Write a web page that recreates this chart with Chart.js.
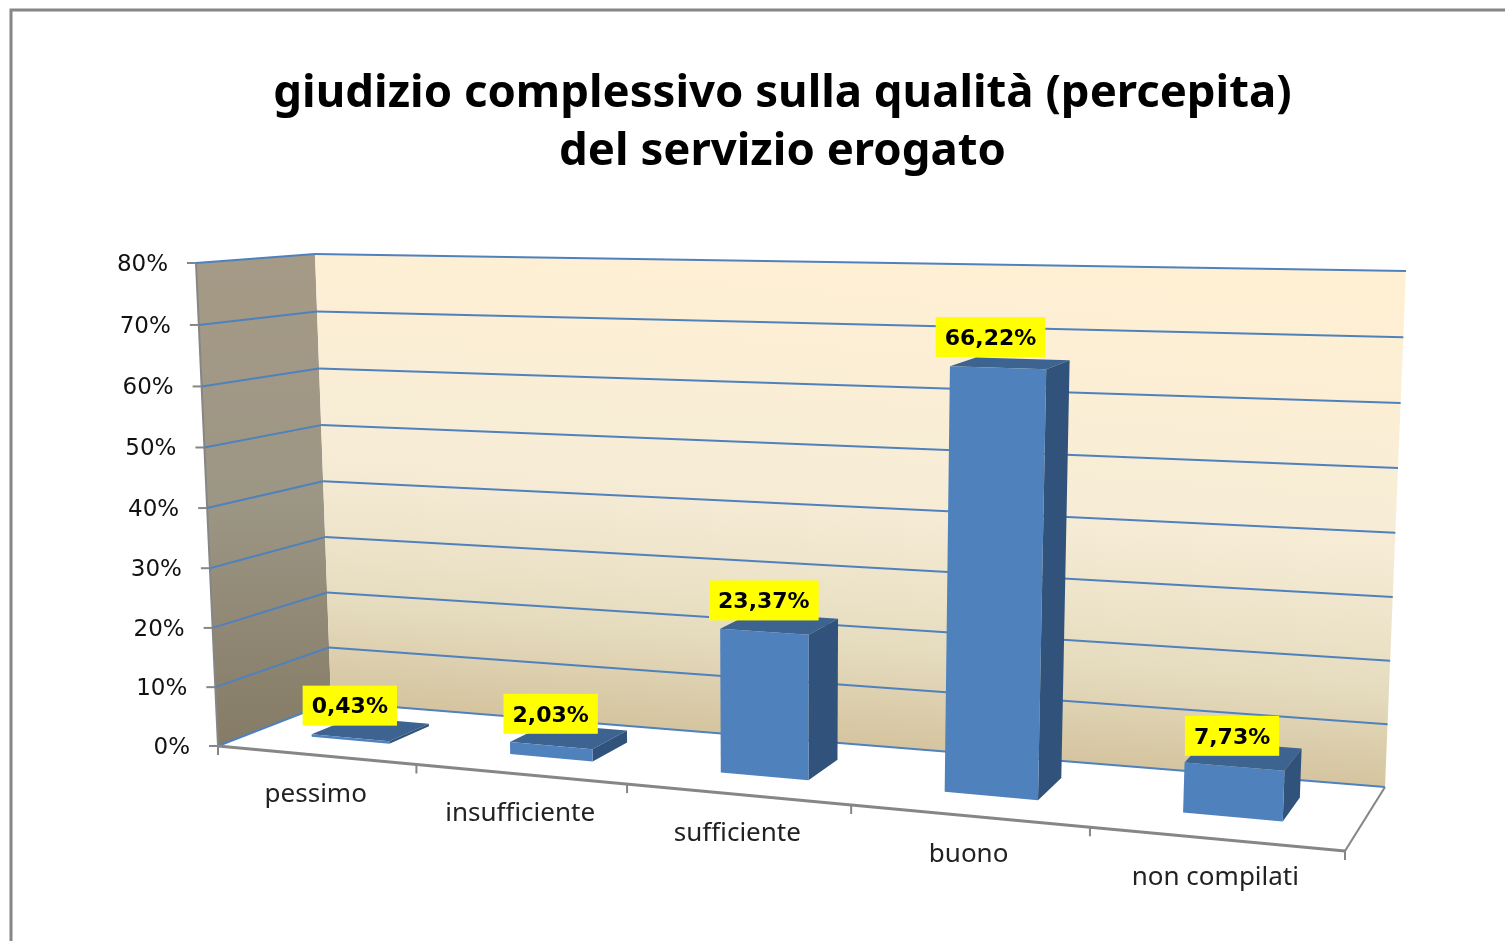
<!DOCTYPE html>
<html><head><meta charset="utf-8">
<style>html,body{margin:0;padding:0;background:#fff}#w{width:1505px;height:941px}</style>
<script src="https://cdn.jsdelivr.net/npm/chart.js@4"></script>
</head><body><div id="w"><canvas id="c"></canvas></div>
<script>
const categories = ["pessimo","insufficiente","sufficiente","buono","non compilati"];
const values = [0.43,2.03,23.37,66.22,7.73];
const valueLabels = ["0,43%","2,03%","23,37%","66,22%","7,73%"];
const titleLines = ["giudizio complessivo sulla qualità (percepita)","del servizio erogato"];

// View of the 3D box: corners as [x, y] on the page
const FL0=[218,746],FL1=[196,263],BL0=[331,702],BL1=[315,254],BR0=[1385,787],BR1=[1406,271],FR0=[1345,851],FR1=[1368,291];
const KX=1.17,KY=1.03;
const zFront=s=>.32+.04*s, zBack=s=>.70+.04*s;
const lerp=(a,b,t)=>[a[0]+(b[0]-a[0])*t,a[1]+(b[1]-a[1])*t];
function proj(s,h,z){
  const t=s/(s+(1-s)*KX), v=h/(h+(1-h)*KY);
  const fb=lerp(FL0,FR0,t),ft=lerp(FL1,FR1,t),bb=lerp(BL0,BR0,t),bt=lerp(BL1,BR1,t);
  return lerp(lerp(fb,ft,v),lerp(bb,bt,v),z);
}
function poly(ctx,pts,fill){ctx.beginPath();pts.forEach((p,i)=>i?ctx.lineTo(p[0],p[1]):ctx.moveTo(p[0],p[1]));ctx.closePath();ctx.fillStyle=fill;ctx.fill();}
function line(ctx,a,b,col,w){ctx.beginPath();ctx.moveTo(a[0],a[1]);ctx.lineTo(b[0],b[1]);ctx.strokeStyle=col;ctx.lineWidth=w;ctx.stroke();}
const fracX=(c,px)=>(px-c.chartArea.left)/c.chartArea.width;
const fracY=(c,py)=>(c.chartArea.bottom-py)/c.chartArea.height;

const box3d={
  id:'box3d',
  beforeDraw(c){
    const x=c.ctx;x.save();x.strokeStyle='#868686';x.lineWidth=3;x.strokeRect(11,10,1700,1200);x.restore();
  },
  beforeDatasetsDraw(c){
    const x=c.ctx,Y=c.scales.y,X=c.scales.x;x.save();
    const bg=x.createLinearGradient(860,262,820,745);
    bg.addColorStop(0,'#FFF0D4');bg.addColorStop(.5,'#F6ECD6');bg.addColorStop(.78,'#E6DDC0');bg.addColorStop(1,'#D4C39E');
    const sg=x.createLinearGradient(260,260,260,745);
    sg.addColorStop(0,'#A59A86');sg.addColorStop(.5,'#9C9684');sg.addColorStop(1,'#857B66');
    poly(x,[FL0,FL1,BL1,BL0],sg);
    poly(x,[BL0,BL1,BR1,BR0],bg);
    poly(x,[FL0,BL0,BR0,FR0],'#ffffff');
    line(x,FL0,FL1,'#868686',2);
    x.font='23px "DejaVu Sans"';x.textAlign='right';x.textBaseline='middle';x.fillStyle='#111';
    Y.ticks.forEach(tk=>{
      const h=fracY(c,Y.getPixelForValue(tk.value));
      const f=proj(0,h,0),b=proj(0,h,1),r=proj(1,h,1);
      line(x,f,b,'#4F81BD',2);line(x,b,r,'#4F81BD',2);
      line(x,[f[0]-9,f[1]],f,'#868686',2);
      x.fillText(tk.label,f[0]-28,f[1]+2);
    });
    line(x,FL0,FR0,'#868686',3);line(x,FR0,BR0,'#868686',2);
    for(let i=0;i<=categories.length;i++){
      const p=proj(fracX(c,X.getPixelForValue(i-.5)),0,0);
      line(x,p,[p[0],p[1]+9],'#868686',2);
    }
    x.font='26px "Noto Sans"';x.textAlign='center';x.fillStyle='#222';
    categories.forEach((lab,i)=>{
      const p=proj(fracX(c,X.getPixelForValue(i)),0,0);
      x.fillText(lab,p[0],p[1]+39);
    });
    x.restore();
  },
  beforeDatasetDraw(c,args){
    const x=c.ctx,els=args.meta.data;x.save();
    els.forEach(el=>{
      const s0=fracX(c,el.x-el.width/2),s1=fracX(c,el.x+el.width/2),sm=fracX(c,el.x),h=fracY(c,el.y);
      const Z0=zFront(sm),Z1=zBack(sm);
      const a=(s,v,z)=>proj(s,v,z);
      poly(x,[a(s0,h,Z0),a(s1,h,Z0),a(s1,h,Z1),a(s0,h,Z1)],'#3D6391');
      poly(x,[a(s1,0,Z0),a(s1,h,Z0),a(s1,h,Z1),a(s1,0,Z1)],'#31527A');
      poly(x,[a(s0,0,Z0),a(s0,h,Z0),a(s1,h,Z0),a(s1,0,Z0)],el.options.backgroundColor);
    });
    x.restore();
    return false;
  },
  afterDatasetsDraw(c){
    const x=c.ctx,els=c.getDatasetMeta(0).data;x.save();
    x.font='bold 22px "DejaVu Sans"';x.textAlign='center';x.textBaseline='middle';
    els.forEach((el,i)=>{
      const sm=fracX(c,el.x);
      const px=proj(sm,0,zFront(sm))[0]-.5;
      const bot=proj(sm,fracY(c,el.y),.36)[1]-10.5;
      const w=x.measureText(valueLabels[i]).width+18;
      x.fillStyle='#FFFF00';x.fillRect(px-w/2,bot-40,w,40);
      x.fillStyle='#000';x.fillText(valueLabels[i],px,bot-18);
    });
    x.restore();
  }
};

new Chart(document.getElementById('c'),{
  type:'bar',
  data:{labels:categories,datasets:[{data:values,backgroundColor:'#4F81BD',barPercentage:.4,categoryPercentage:1}]},
  plugins:[box3d],
  options:{
    responsive:true,maintainAspectRatio:false,animation:false,
    layout:{padding:{left:60,top:65,right:0,bottom:20}},
    plugins:{
      legend:{display:false},tooltip:{enabled:false},
      title:{display:true,text:titleLines,color:'#000',padding:0,font:{family:'"Noto Sans"',weight:'bold',size:45.5,lineHeight:'58px'}}
    },
    scales:{
      x:{display:false},
      y:{display:false,min:0,max:80,ticks:{stepSize:10,callback:v=>v+'%'}}
    }
  }
});
</script></body></html>
